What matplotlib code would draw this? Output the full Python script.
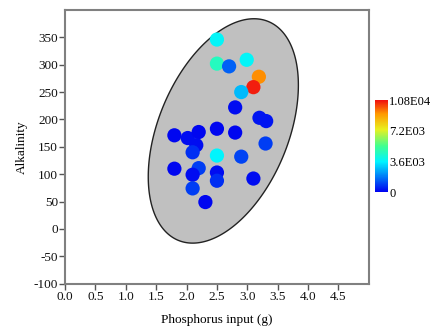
import numpy as np
import matplotlib
matplotlib.use("Agg")
import matplotlib.pyplot as plt
from matplotlib.colors import LinearSegmentedColormap, Normalize

# ---- data ----
phosphorus = [2.50, 2.50, 2.70, 2.99, 3.19, 3.10, 2.90, 2.80, 3.20, 3.31,
              2.50, 2.80, 1.80, 2.02, 2.20, 2.16, 2.10, 3.30, 2.50, 2.90,
              1.80, 2.20, 2.10, 2.50, 2.50, 3.10, 2.10, 2.31]
alkalinity = [346, 302, 297, 309, 278, 259, 250, 222, 203, 197,
              183, 176, 171, 166, 177, 153, 140, 156, 134, 132,
              110, 111, 99, 103, 88, 92, 74, 49]
color_value = [3700, 4600, 1400, 3700, 9300, 10600, 2700, 200, 300, 300,
               100, 100, 100, 200, 100, 200, 700, 900, 3600, 1000,
               100, 900, 200, 200, 700, 200, 900, 100]

x_ticks = [0.0, 0.5, 1.0, 1.5, 2.0, 2.5, 3.0, 3.5, 4.0, 4.5]
y_ticks = [-100, -50, 0, 50, 100, 150, 200, 250, 300, 350]
cbar_ticks = [0, 3600, 7200, 10800]
cbar_labels = ["0", "3.6E03", "7.2E03", "1.08E04"]

# ellipse shape parameters (data units)
ell_center = (2.605, 179)
ell_rx, ell_ry, ell_phase = 1.235, 205, np.deg2rad(65.9)

plt.rcParams['font.family'] = ['Liberation Serif', 'DejaVu Serif']
plt.rcParams['axes.unicode_minus'] = False

fig = plt.figure(figsize=(4.35, 3.33), dpi=100)
ax = fig.add_axes([0.1494, 0.1483, 0.6986, 0.8217])

t = np.linspace(0, 2 * np.pi, 400)
ex = ell_center[0] + ell_rx * np.cos(t)
ey = ell_center[1] + ell_ry * np.cos(t - ell_phase)
ax.fill(ex, ey, facecolor='#c0c0c0', edgecolor='#222222', linewidth=1.0, zorder=1)

cmap = LinearSegmentedColormap.from_list(
    'rb', [(0.0, '#0000f0'), (0.33, '#00f4ff'), (0.5, '#40ff90'),
           (0.68, '#e8f020'), (0.85, '#ff9a00'), (1.0, '#f01010')])
norm = Normalize(vmin=0, vmax=10800)
sc = ax.scatter(phosphorus, alkalinity, c=color_value, cmap=cmap, norm=norm,
                s=105, edgecolors='none', zorder=2)

ax.set_xlim(0, 5)
ax.set_ylim(-100, 400)
ax.set_xticks(x_ticks)
ax.set_xticklabels([f"{v:.1f}" for v in x_ticks])
ax.set_yticks(y_ticks)
for side in ['left', 'bottom', 'right', 'top']:
    ax.spines[side].set_color('#808080')
    ax.spines[side].set_linewidth(1.5)
ax.tick_params(direction='out', length=4, width=1, color='#555555',
               labelsize=9.5, pad=1, labelcolor='#111111')
ax.set_xlabel('Phosphorus input (g)', fontsize=9.5, labelpad=8)
ax.set_ylabel('Alkalinity', fontsize=9.5, labelpad=4)

cax = fig.add_axes([0.862, 0.4234, 0.030, 0.276])
cb = fig.colorbar(sc, cax=cax, ticks=cbar_ticks)
cb.ax.set_yticklabels(cbar_labels)
cb.outline.set_visible(False)
cb.ax.tick_params(length=0, labelsize=9, pad=1)

fig.savefig('out.png', dpi=100)
